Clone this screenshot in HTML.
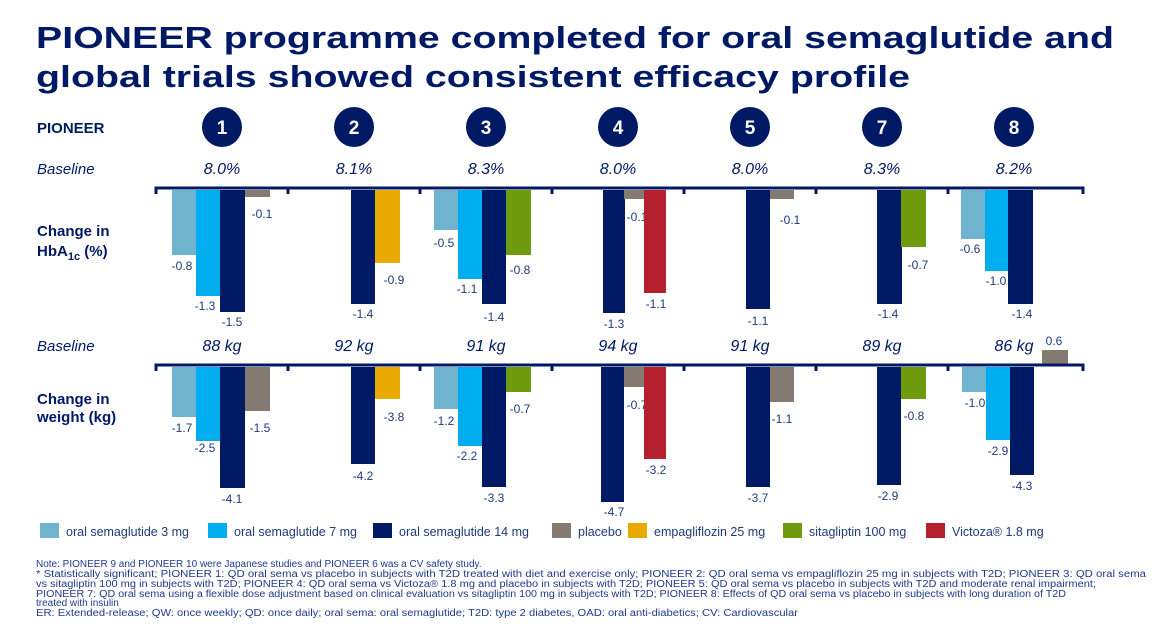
<!DOCTYPE html>
<html><head><meta charset="utf-8"><style>
html,body{margin:0;padding:0;background:#fff;}
svg{display:block;font-family:"Liberation Sans",sans-serif;}
</style></head><body>
<svg id="s" width="1172" height="626" viewBox="0 0 1172 626" xmlns="http://www.w3.org/2000/svg">
<text x="36" y="48" font-size="31" font-weight="bold" fill="#001965" textLength="1078" lengthAdjust="spacingAndGlyphs">PIONEER programme completed for oral semaglutide and</text>
<text x="36" y="87" font-size="31" font-weight="bold" fill="#001965" textLength="874" lengthAdjust="spacingAndGlyphs">global trials showed consistent efficacy profile</text>
<text x="37" y="133" font-size="15" font-weight="bold" fill="#001965">PIONEER</text>
<text x="37" y="174" font-size="15" font-style="italic" fill="#001965">Baseline</text>
<text x="37" y="236" font-size="15" font-weight="bold" fill="#001965">Change in</text>
<text x="37" y="256" font-size="15" font-weight="bold" fill="#001965">HbA<tspan font-size="11" dy="4">1c</tspan><tspan dy="-4"> (%)</tspan></text>
<text x="37" y="351" font-size="15" font-style="italic" fill="#001965">Baseline</text>
<text x="37" y="404" font-size="15" font-weight="bold" fill="#001965">Change in</text>
<text x="37" y="422" font-size="15" font-weight="bold" fill="#001965">weight (kg)</text>
<g id="g"></g>
<g font-size="10" fill="#1f3a8a">
<text x="36" y="567">Note: PIONEER 9 and PIONEER 10 were Japanese studies and PIONEER 6 was a CV safety study.</text>
<text x="36" y="577" textLength="1110" lengthAdjust="spacingAndGlyphs">* Statistically significant; PIONEER 1: QD oral sema vs placebo in subjects with T2D treated with diet and exercise only; PIONEER 2: QD oral sema vs empagliflozin 25 mg in subjects with T2D; PIONEER 3: QD oral sema</text>
<text x="36" y="587" textLength="1060" lengthAdjust="spacingAndGlyphs">vs sitagliptin 100 mg in subjects with T2D; PIONEER 4: QD oral sema vs Victoza® 1.8 mg and placebo in subjects with T2D; PIONEER 5: QD oral sema vs placebo in subjects with T2D and moderate renal impairment;</text>
<text x="36" y="597" textLength="1030" lengthAdjust="spacingAndGlyphs">PIONEER 7: QD oral sema using a flexible dose adjustment based on clinical evaluation vs sitagliptin 100 mg in subjects with T2D; PIONEER 8: Effects of QD oral sema vs placebo in subjects with long duration of T2D</text>
<text x="36" y="606">treated with insulin</text>
<text x="36" y="616" textLength="762" lengthAdjust="spacingAndGlyphs">ER: Extended-release; QW: once weekly; QD: once daily; oral sema: oral semaglutide; T2D: type 2 diabetes, OAD: oral anti-diabetics; CV: Cardiovascular</text>
</g>
</svg>
<script>
const C={a:"#6fb3cf",b:"#00aeef",c:"#001965",p:"#857a72",e:"#e8a900",s:"#6e9a0e",v:"#b5202e"};
const g=document.getElementById('g');let h='';
const nums=["1","2","3","4","5","7","8"],cx=[222,354,486,618,750,882,1014];
const b1=["8.0%","8.1%","8.3%","8.0%","8.0%","8.3%","8.2%"],b2=["88 kg","92 kg","91 kg","94 kg","91 kg","89 kg","86 kg"];
cx.forEach((x,i)=>{h+=`<circle cx="${x}" cy="127" r="20" fill="#001965"/><text x="${x}" y="134" font-size="19" font-weight="bold" fill="#fff" text-anchor="middle">${nums[i]}</text>`;
h+=`<text x="${x}" y="174" font-size="16" font-style="italic" fill="#001965" text-anchor="middle">${b1[i]}</text>`;
h+=`<text x="${x}" y="351" font-size="16" font-style="italic" fill="#001965" text-anchor="middle">${b2[i]}</text>`;});
const A=[[172,196,'a',255,'-0.8',182,270],[196,220,'b',296,'-1.3',205,310],[220,245,'c',312,'-1.5',232,326],[245,270,'p',197,'-0.1',262,218],
[351,375,'c',304,'-1.4',363,318],[375,400,'e',263,'-0.9',394,284],
[434,458,'a',230,'-0.5',444,247],[458,482,'b',279,'-1.1',467,293],[482,506,'c',304,'-1.4',494,321],[506,531,'s',255,'-0.8',520,274],
[603,625,'c',313,'-1.3',614,328],[624,645,'p',199,'-0.1',637,221],[644,666,'v',293,'-1.1',656,308],
[746,770,'c',309,'-1.1',758,325],[770,794,'p',199,'-0.1',790,224],
[877,902,'c',304,'-1.4',888,318],[901,926,'s',247,'-0.7',918,269],
[961,985,'a',239,'-0.6',970,253],[985,1008,'b',271,'-1.0',996,285],[1008,1033,'c',304,'-1.4',1022,318]];
const W=[[172,196,'a',417,'-1.7',182,432],[196,220,'b',441,'-2.5',205,452],[220,245,'c',488,'-4.1',232,503],[245,270,'p',411,'-1.5',260,432],
[351,375,'c',464,'-4.2',363,480],[375,400,'e',399,'-3.8',394,421],
[434,458,'a',409,'-1.2',444,425],[458,482,'b',446,'-2.2',467,460],[482,506,'c',487,'-3.3',494,502],[506,531,'s',392,'-0.7',520,413],
[601,624,'c',502,'-4.7',614,516],[624,644,'p',387,'-0.7',637,409],[644,666,'v',459,'-3.2',656,474],
[746,770,'c',487,'-3.7',758,502],[770,794,'p',402,'-1.1',782,423],
[877,901,'c',485,'-2.9',888,500],[901,926,'s',399,'-0.8',914,420],
[962,986,'a',392,'-1.0',975,407],[986,1010,'b',440,'-2.9',998,455],[1010,1034,'c',475,'-4.3',1022,490]];
function bars(L,y0){L.forEach(d=>{h+=`<rect x="${d[0]}" y="${y0}" width="${d[1]-d[0]}" height="${d[3]-y0}" fill="${C[d[2]]}"/><text x="${d[5]}" y="${d[6]}" font-size="12" fill="#1f3a7a" text-anchor="middle">${d[4]}</text>`;});}
bars(A,190);bars(W,367);
h+=`<rect x="1042" y="350" width="26" height="16" fill="${C.p}"/><text x="1054" y="345" font-size="12" fill="#1f3a7a" text-anchor="middle">0.6</text>`;
function axis(y){h+=`<path d="M156 ${y+6} V${y} H1083 V${y+6}" stroke="#001965" stroke-width="3" fill="none"/>`;
[288,420,552,684,816,948].forEach(x=>{h+=`<line x1="${x}" y1="${y}" x2="${x}" y2="${y+6}" stroke="#001965" stroke-width="3"/>`;});}
axis(188);axis(365);
const Lg=[[40,'a','oral semaglutide 3 mg'],[208,'b','oral semaglutide 7 mg'],[373,'c','oral semaglutide 14 mg'],[552,'p','placebo'],[628,'e','empagliflozin 25 mg'],[783,'s','sitagliptin 100 mg'],[926,'v','Victoza® 1.8 mg']];
Lg.forEach(d=>{h+=`<rect x="${d[0]}" y="523" width="19" height="15" fill="${C[d[1]]}"/><text x="${d[0]+26}" y="536" font-size="12.5" fill="#1f3a7a">${d[2]}</text>`;});
g.innerHTML=h;
</script>
</body></html>
